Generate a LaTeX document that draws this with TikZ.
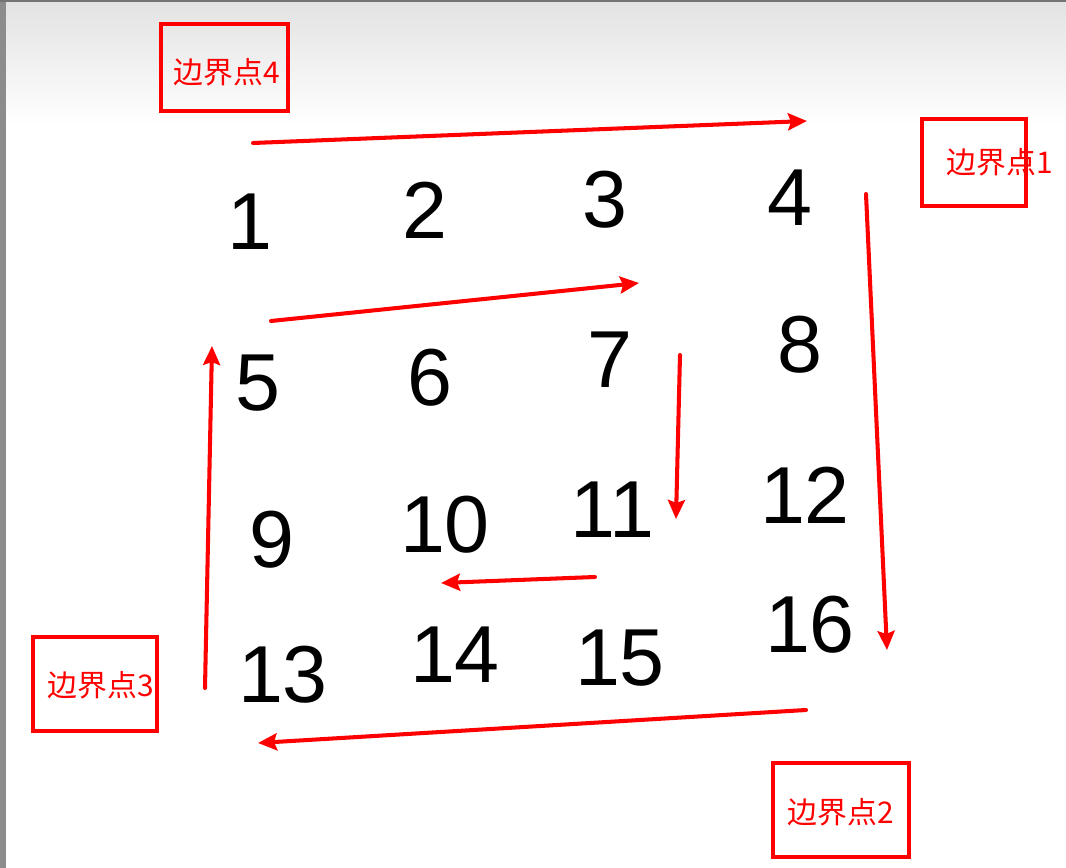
\documentclass[tikz,border=0pt]{standalone}
\usepackage{fontspec}
\newfontfamily\cjk{Noto Sans CJK SC}
\setsansfont{Liberation Sans}
\usetikzlibrary{arrows.meta}
\definecolor{myred}{RGB}{255,0,0}
\definecolor{topg}{RGB}{226,226,226}
\definecolor{barg}{RGB}{140,140,140}
\begin{document}
\begin{tikzpicture}[x=0.02cm,y=-0.02cm,
  lbl/.style={text=myred,font=\cjk\fontsize{17}{17}\selectfont,inner sep=0pt},
  lblbox/.style={draw=myred,line width=2.3pt},
  digit/.style={font=\sffamily\fontsize{46}{46}\selectfont,text=black,inner sep=0pt},
  redarrow/.style={draw=myred,line width=2.3pt,line cap=round,-{Stealth[length=0.38cm,width=0.34cm,inset=0.06cm]}}]
\useasboundingbox (0,0) rectangle (1066,868);
\fill[white] (0,0) rectangle (1066,868);
\shade[top color=topg,bottom color=white] (0,0) rectangle (1066,125);
\fill[barg] (0,0) rectangle (6,868);
\fill[gray!90!black] (0,0) rectangle (1066,2);
% boxes
\draw[lblbox] (161,24) rectangle (288,111);
\node[lbl] (b4) at (227,72) {边界点4};
\draw[lblbox] (922,119) rectangle (1026,206);
\node[lbl] (b1) at (1000,162) {边界点1};
\draw[lblbox] (33,637) rectangle (157,731);
\node[lbl] (b3) at (101,685) {边界点3};
\draw[lblbox] (773,763) rectangle (909,857);
\node[lbl] (b2) at (841,812) {边界点2};
% digits
\node[digit] (n1) at (250,222) {1};
\node[digit] (n2) at (425,210) {2};
\node[digit] (n3) at (605,200) {3};
\node[digit] (n4) at (790,198) {4};
\node[digit] (n5) at (258,383) {5};
\node[digit] (n6) at (430,378) {6};
\node[digit] (n7) at (610,360) {7};
\node[digit] (n8) at (800,345) {8};
\node[digit] (n9) at (272,540) {9};
\node[digit] (n10) at (445,525) {10};
\node[digit] (n11) at (612,510) {11};
\node[digit] (n12) at (805,495) {12};
\node[digit] (n13) at (283,675) {13};
\node[digit] (n14) at (455,655) {14};
\node[digit] (n15) at (620,658) {15};
\node[digit] (n16) at (810,625) {16};
% arrow endpoints
\coordinate (a1s) at (253,143); \coordinate (a1e) at (807,121);
\coordinate (a2s) at (866,194); \coordinate (a2e) at (887,650);
\coordinate (a3s) at (806,710); \coordinate (a3e) at (258,743);
\coordinate (a4s) at (205,688); \coordinate (a4e) at (212,346);
\coordinate (a5s) at (271,321); \coordinate (a5e) at (639,283);
\coordinate (a6s) at (680,355); \coordinate (a6e) at (676,519);
\coordinate (a7s) at (595,577); \coordinate (a7e) at (441,583);
\draw[redarrow] (a1s) -- (a1e);
\draw[redarrow] (a2s) -- (a2e);
\draw[redarrow] (a3s) -- (a3e);
\draw[redarrow] (a4s) -- (a4e);
\draw[redarrow] (a5s) -- (a5e);
\draw[redarrow] (a6s) -- (a6e);
\draw[redarrow] (a7s) -- (a7e);
\end{tikzpicture}
\end{document}
